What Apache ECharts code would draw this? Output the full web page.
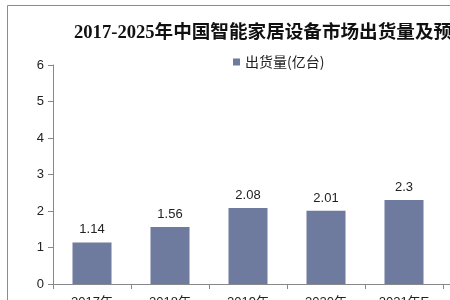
<!DOCTYPE html>
<html><head><meta charset="utf-8">
<script src="https://cdn.jsdelivr.net/npm/echarts@6/dist/echarts.min.js"></script>
<style>html,body{margin:0;padding:0;background:#fff}#c{width:450px;height:300px}</style>
</head><body><div id="c"></div>
<script>
const categories = ['2017年','2018年','2019年','2020年','2021年E','2022年E'];
const shipments = [1.14, 1.56, 2.08, 2.01, 2.3, null];
const seriesName = '出货量(亿台)';
const titleText = '2017-2025年中国智能家居设备市场出货量及预测';

const chart = echarts.init(document.getElementById('c'), null, {renderer:'canvas'});
chart.setOption({
  animation:false,
  backgroundColor:'#fff',
  graphic:[{type:'rect',shape:{x:7.5,y:5.5,width:600,height:400},style:{fill:'none',stroke:'#8c8c8c',lineWidth:1}}],
  title:{text:titleText,left:69,top:19,textStyle:{fontFamily:'Liberation Serif, Noto Sans CJK SC, serif',fontWeight:'bold',fontSize:18.6,color:'#111'}},
  legend:{data:[seriesName],left:228,top:50,icon:'rect',itemWidth:7,itemHeight:7,itemGap:3,
    textStyle:{fontFamily:'Noto Sans CJK SC',fontSize:14,color:'#222'}},
  grid:{left:53,top:65,width:468,bottom:16,containLabel:false,outerBoundsMode:'none'},
  xAxis:{type:'category',data:categories,
    axisLine:{lineStyle:{color:'#888'}},axisTick:{show:true,length:5,lineStyle:{color:'#888'}},
    axisLabel:{margin:12,fontFamily:'Liberation Sans, Noto Sans CJK SC',fontSize:13,color:'#222'}},
  yAxis:{type:'value',min:0,max:6,interval:1,
    axisLine:{show:true,lineStyle:{color:'#888'}},axisTick:{show:true,length:5,lineStyle:{color:'#888'}},
    splitLine:{show:false},
    axisLabel:{margin:9,fontFamily:'Liberation Sans',fontSize:13,color:'#222'}},
  series:[{name:seriesName,type:'bar',data:shipments,barWidth:39,
    itemStyle:{color:'#6E7A9E'},
    label:{show:true,position:'top',distance:6,fontFamily:'Liberation Sans',fontSize:13,color:'#222'}}]
});
</script></body></html>
